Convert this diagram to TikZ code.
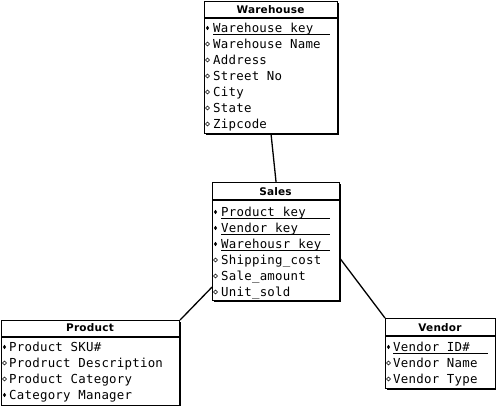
\documentclass[tikz,border=0pt]{standalone}
\usepackage{fontspec}
\usetikzlibrary{shadows}
\newfontfamily\attrfont[LetterSpace=2]{DejaVu Sans Mono}
\newfontfamily\titlefont[LetterSpace=2]{DejaVu Sans Bold}
\newcommand\mkkey[2]{\fill (#1,#2) ++(0,-2.2) -- ++(1.6,2.2) -- ++(-1.6,2.2) -- ++(-1.6,-2.2) -- cycle;}
\newcommand\mkatt[2]{\draw[line width=0.5pt] (#1,#2) ++(0,-2) -- ++(2,2) -- ++(-2,2) -- ++(-2,-2) -- cycle;}
\tikzset{
  entity/.style={draw, line width=1.1pt, fill=white, inner sep=0pt, anchor=north west,
    drop shadow={shadow xshift=1.2pt, shadow yshift=-1.2pt, fill=black, opacity=1}},
  etitle/.style={anchor=base, inner sep=0pt, font=\titlefont\fontsize{10.5}{12}\selectfont},
  attr/.style={anchor=base west, inner sep=0pt, font=\attrfont\fontsize{12.4}{14}\selectfont},
  uline/.style={line width=0.7pt},
  divider/.style={line width=1.1pt},
  link/.style={line width=1.3pt}
}
\begin{document}
\begin{tikzpicture}[x=1pt,y=-1pt]
\useasboundingbox (0,0) rectangle (496,406);
% ---------- Warehouse
\node[entity, minimum width=133pt, minimum height=132pt] (wh) at (204,1) {};
\draw[divider] ([yshift=-17pt]wh.north west) -- ([yshift=-17pt]wh.north east);
\node[etitle] (whT) at (270.5,14) {Warehouse};
\node[attr] (wh1) at (213,33) {Warehouse\_key};
\node[attr] (wh2) at (213,49) {Warehouse Name};
\node[attr] (wh3) at (213,65) {Address};
\node[attr] (wh4) at (213,81) {Street No};
\node[attr] (wh5) at (213,97) {City};
\node[attr] (wh6) at (213,113) {State};
\node[attr] (wh7) at (213,129) {Zipcode};
\draw[uline] ([yshift=-1.2pt]wh1.base west) -- ++(117,0);
\mkkey{207.5}{28}
\mkatt{207.5}{44}\mkatt{207.5}{60}\mkatt{207.5}{76}\mkatt{207.5}{92}\mkatt{207.5}{108}\mkatt{207.5}{124}
% ---------- Sales
\node[entity, minimum width=127pt, minimum height=118pt] (sales) at (212,182) {};
\draw[divider] ([yshift=-18pt]sales.north west) -- ([yshift=-18pt]sales.north east);
\node[etitle] (salesT) at (275.5,196) {Sales};
\node[attr] (s1) at (221,217) {Product\_key};
\node[attr] (s2) at (221,233) {Vendor\_key};
\node[attr] (s3) at (221,249) {Warehousr\_key};
\node[attr] (s4) at (221,265) {Shipping\_cost};
\node[attr] (s5) at (221,281) {Sale\_amount};
\node[attr] (s6) at (221,297) {Unit\_sold};
\draw[uline] ([yshift=-1.2pt]s1.base west) -- ++(109,0);
\draw[uline] ([yshift=-1.2pt]s2.base west) -- ++(109,0);
\draw[uline] ([yshift=-1.2pt]s3.base west) -- ++(109,0);
\mkkey{215.5}{212}\mkkey{215.5}{228}\mkkey{215.5}{244}
\mkatt{215.5}{260}\mkatt{215.5}{276}\mkatt{215.5}{292}
% ---------- Product
\node[entity, minimum width=178pt, minimum height=85pt] (prod) at (1,320) {};
\draw[divider] ([yshift=-17pt]prod.north west) -- ([yshift=-17pt]prod.north east);
\node[etitle] (prodT) at (90,332) {Product};
\node[attr] (p1) at (9,352) {Product SKU\#};
\node[attr] (p2) at (9,368) {Prodruct Description};
\node[attr] (p3) at (9,384) {Product Category};
\node[attr] (p4) at (9,400) {Category Manager};
\mkkey{4.5}{347}\mkatt{4.5}{363}\mkatt{4.5}{379}\mkkey{4.5}{395}
% ---------- Vendor
\node[entity, minimum width=110pt, minimum height=70pt] (vend) at (385,318) {};
\draw[divider] ([yshift=-18pt]vend.north west) -- ([yshift=-18pt]vend.north east);
\node[etitle] (vendT) at (440,332) {Vendor};
\node[attr] (v1) at (393,352) {Vendor ID\#};
\node[attr] (v2) at (393,368) {Vendor Name};
\node[attr] (v3) at (393,384) {Vendor Type};
\draw[uline] ([yshift=-1.2pt]v1.base west) -- ++(95,0);
\mkkey{388.5}{347}\mkatt{388.5}{363}\mkatt{388.5}{379}
% ---------- connectors
\draw[link] (wh.south) -- (sales.north);
\draw[link] (prod.north east) -- ([yshift=14pt]sales.south west);
\draw[link] (vend.north west) -- ([yshift=-17pt]sales.east);
\end{tikzpicture}
\end{document}
